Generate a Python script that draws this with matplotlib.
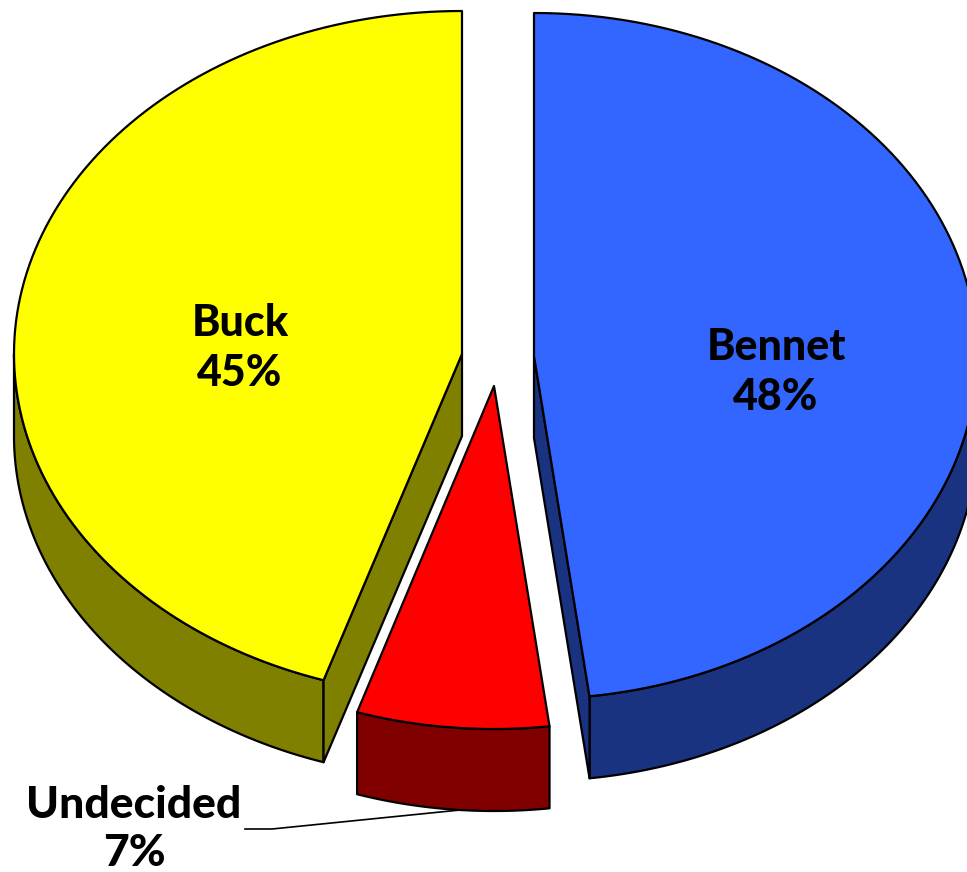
import numpy as np
import matplotlib
matplotlib.use("Agg")
import matplotlib.pyplot as plt
from matplotlib.patches import Polygon

# Data
names = ["Bennet", "Undecided", "Buck"]
shares = [48, 7, 45]

# Colours
top_colors = ["#3366FF", "#FF0000", "#FFFF00"]
side_colors = ["#1A3380", "#800000", "#808000"]

# Pie layout, in pixels
RY = 343
DEPTH = 82
radii_x = [443, 443, 448]
apexes = [(534, 356), (494, 386), (462, 354)]
label_pos = [(776, 372), None, (240, 348)]


def rim(apex, rx, a0, a1, n=120):
    # points along the ellipse, angles in degrees clockwise from the top
    t = np.radians(np.linspace(a0, a1, n))
    return np.column_stack((apex[0] + rx * np.sin(t), apex[1] - RY * np.cos(t)))


def extrude(pts):
    return pts + np.array([0, DEPTH])


def draw_shape(ax, pts, color, z):
    ax.add_patch(Polygon(pts, closed=True, facecolor=color, edgecolor="black",
                         linewidth=1.6, joinstyle="round", zorder=z))


fig = plt.figure(figsize=(9.67, 8.72), dpi=100)
ax = fig.add_axes([0, 0, 1, 1])
ax.set_xlim(0, 967)
ax.set_ylim(872, 0)
ax.axis("off")

# Step through the slices, clockwise from the top
start = 0
for i, share in enumerate(shares):
    end = start + share * 3.6
    apex = np.array(apexes[i], dtype=float)
    arc = rim(apex, radii_x[i], start, end)

    # outer wall: only the part facing the viewer (90 to 270 degrees)
    lo, hi = max(start, 90), min(end, 270)
    wall = rim(apex, radii_x[i], lo, hi)
    draw_shape(ax, np.vstack((wall, extrude(wall)[::-1])), side_colors[i], 2)

    # cut faces that can be seen
    if names[i] == "Bennet":
        edge = np.array([apex, arc[-1]])
        draw_shape(ax, np.vstack((edge, extrude(edge)[::-1])), side_colors[i], 2)
    if names[i] == "Buck":
        edge = np.array([apex, arc[0]])
        draw_shape(ax, np.vstack((edge, extrude(edge)[::-1])), side_colors[i], 2)

    # top face
    draw_shape(ax, np.vstack((apex, arc)), top_colors[i], 3)

    if label_pos[i] is not None:
        ax.text(label_pos[i][0], label_pos[i][1], f"{names[i]}\n{share}%",
                ha="center", va="center", family="Lato", weight=900,
                fontsize=31, linespacing=1.33, color="black", zorder=5)
    start = end

# Undecided label sits outside with a leader line
ax.text(134, 829, f"{names[1]}\n{shares[1]}%", ha="center", va="center",
        family="Lato", weight=900, fontsize=32, linespacing=1.26,
        color="black", zorder=5)
ax.plot([245, 272, 470], [829, 829, 809], color="black", linewidth=1.2, zorder=1)

fig.savefig("out.png", dpi=100)
